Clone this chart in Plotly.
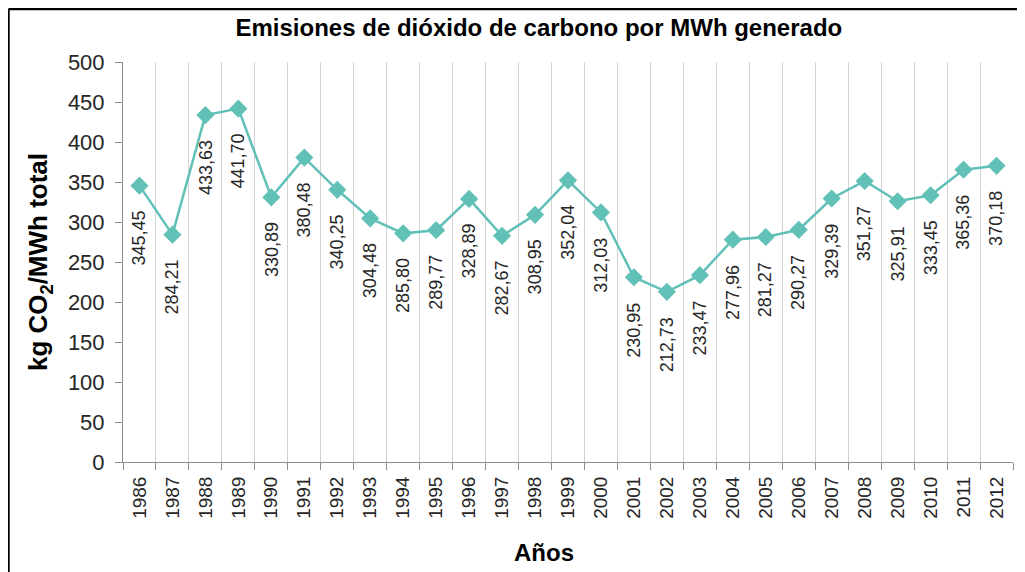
import plotly.graph_objects as go

years = [str(y) for y in range(1986, 2013)]
values = [345.45, 284.21, 433.63, 441.70, 330.89, 380.48, 340.25, 304.48, 285.80,
          289.77, 328.89, 282.67, 308.95, 352.04, 312.03, 230.95, 212.73, 233.47,
          277.96, 281.27, 290.27, 329.39, 351.27, 325.91, 333.45, 365.36, 370.18]
labels = [f"{v:.2f}".replace(".", ",") for v in values]

teal = "#62C1B7"
font = "Liberation Sans, Arial, sans-serif"

fig = go.Figure()
fig.add_trace(go.Scatter(
    x=years, y=values, mode="lines+markers",
    line=dict(color=teal, width=2.5),
    marker=dict(symbol="diamond", size=14, color=teal),
    showlegend=False, hoverinfo="skip"))

for i, (v, lab) in enumerate(zip(values, labels)):
    fig.add_annotation(x=i, y=v, xref="x", yref="y", text=lab, showarrow=False,
                       textangle=-90, xanchor="center", yanchor="top", yshift=-23,
                       font=dict(family=font, size=18, color="#262626"))

# x-axis title (offset left of plot centre, as in the reference)
fig.add_annotation(x=0.4728, y=-0.225, xref="paper", yref="paper",
                   text="<b>Años</b>", showarrow=False,
                   xanchor="center", yanchor="middle",
                   font=dict(family=font, size=24, color="#000000"))

fig.update_layout(
    width=1017, height=564,
    margin=dict(l=115, r=12, t=54, b=110),
    paper_bgcolor="white", plot_bgcolor="white",
    title=dict(text="<b>Emisiones de dióxido de carbono por MWh generado</b>",
               x=0.522, xanchor="center", y=1 - 20 / 564, yanchor="middle",
               font=dict(family=font, size=24, color="#000000")),
    xaxis=dict(type="category", tickson="boundaries", showgrid=True,
               gridcolor="#D2D2D2", gridwidth=1, showline=True, linecolor="#8C8C8C",
               ticks="outside", ticklen=7, tickcolor="#8C8C8C", tickangle=-90,
               ticklabelstandoff=6,
               tickfont=dict(family=font, size=19, color="#262626"),
               range=[-0.5, 26.5], zeroline=False),
    yaxis=dict(range=[0, 500], dtick=50, showgrid=False, showline=True,
               linecolor="#8C8C8C", ticks="outside", ticklen=7, tickcolor="#8C8C8C",
               ticklabelstandoff=6,
               tickfont=dict(family=font, size=22, color="#262626"),
               title=dict(text="<b>kg CO<sub>2</sub>/MWh total</b>", standoff=12,
                          font=dict(family=font, size=26, color="#000000")),
               zeroline=False),
    shapes=[
        dict(type="line", xref="paper", yref="paper", x0=-0.1287, x1=1.03,
             y0=1.1325, y1=1.1325, line=dict(color="#000000", width=2.5)),
        dict(type="line", xref="paper", yref="paper", x0=-0.1287, x1=-0.1287,
             y0=1.1325, y1=-0.3, line=dict(color="#000000", width=2.5)),
    ],
)

fig.write_html("out.html")
